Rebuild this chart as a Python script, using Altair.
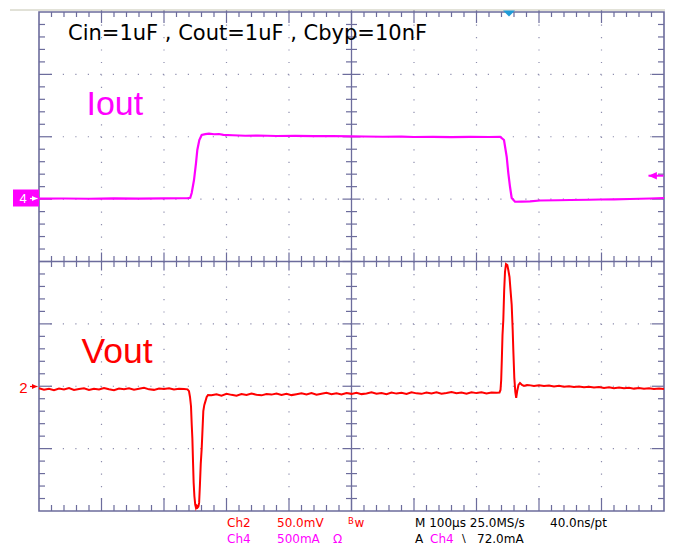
import altair as alt
import pandas as pd

# ---------------- data ----------------
# time in microseconds (100 us/div, screen spans -500..500 us)
# Ch4 = Iout in mA relative to its ground marker (500 mA/div, marker at +1 div)
iout_t = [-500, -460, -420, -380, -340, -300, -270, -262, -258, -255.7, -252, -248.8,
          -246.7, -243.5, -239.7, -234, -228, -220, -212, -205, -190, -170, -150, -120,
          -90, -60, -30, 0, 20, 50, 80, 100, 130, 160, 190, 220, 238, 244, 248.3, 250.9,
          253.6, 256.3, 261.6, 272, 285.6, 301.6, 330, 349.6, 380, 397.6, 420, 445.6,
          477.6, 500]
iout_ma = [4, 5, 3, 6, 4, 6, 7, 8, 11, 49, 153, 289,
           394, 474, 514, 521, 525, 520, 522, 515, 512, 508, 510, 506,
           507, 505, 506, 503, 502, 500, 501, 498, 499, 497, 499, 498, 499, 474, 340, 209,
           99, 9, -21, -20, -18, -11, -9, -7, -5, -3, -2, 1,
           5, 9]

# Ch2 = Vout in mV relative to its marker (50 mV/div, marker at -2 div)
vout_t = [-500, -492, -484, -476, -468, -460, -452, -444, -436, -428, -420, -412, -404,
          -396, -388, -380, -372, -364, -356, -348, -340, -332, -324, -316, -308, -300,
          -292, -284, -276, -268,
          -262.4, -260.0, -258.4, -256.8, -255.7, -254.6, -253.6, -252.6, -251.4, -250.0,
          -248.8, -247.5, -246.2, -245.0, -243.8, -242.6, -241.2, -239.7, -238.4, -237.1,
          -235.5, -234.0, -231.7, -229.6,
          -224, -216, -208, -200, -192, -184, -176, -168, -160, -152, -144, -136, -128,
          -120, -112, -104, -96, -88, -80, -72, -64, -56, -48, -40, -32, -24, -16, -8, 0,
          8, 16, 24, 32, 40, 48, 56, 64, 72, 80, 88, 96, 104, 112, 120, 128, 136, 144,
          152, 160, 168, 176, 184, 192, 200, 208, 216, 224, 232,
          236.8, 238.4, 239.5, 240.5, 241.6, 242.9, 244.3, 245.6, 247.2, 249.3, 250.9,
          252.8, 254.4, 256.3, 257.9, 258.9, 260.5, 262.1, 263.5, 265.1, 267.2, 269.6,
          272.8, 276.0, 280.8,
          284, 292, 300, 308, 316, 324, 332, 340, 348, 356, 364, 372, 380, 388, 396, 404,
          412, 420, 428, 436, 444, 452, 460, 468, 476, 484, 492, 500]
vout_mv = [-1.6, -2.8, -2.0, -3.1, -1.9, -2.5, -1.4, -2.9, -2.2, -1.7, -3.0, -2.1, -2.6,
           -1.5, -2.4, -3.2, -1.8, -2.3, -1.6, -2.7, -2.0, -1.3, -2.5, -2.9, -1.9, -2.2,
           -1.7, -2.6, -2.0, -2.3,
           -2.5, -4.0, -8.6, -16, -30, -42, -60, -77, -88, -95,
           -97.5, -96.0, -97.2, -96.4, -93.5, -80, -62, -50, -35, -20,
           -15, -12.5, -8.6, -7.0,
           -7.2, -6.4, -7.5, -6.1, -6.9, -7.6, -6.3, -7.0, -5.9, -6.8, -7.3, -6.2, -6.7,
           -5.8, -6.9, -6.0, -7.1, -6.4, -5.7, -6.6, -5.5, -6.8, -6.0, -5.3, -6.4, -5.7,
           -6.6, -5.4, -6.1,
           -5.2, -6.3, -5.8, -4.9, -6.0, -5.5, -6.4, -5.1, -5.9, -5.3, -6.2, -4.8, -5.7,
           -6.1, -5.0, -5.8, -4.9, -6.0,
           -5.4, -4.7, -5.6, -5.1, -6.0, -4.8, -5.5, -4.9, -5.8, -5.0, -5.3,
           -5.0, -3.0, 5.0, 21.1, 41.1, 53.1, 77.2, 91.6, 98.0, 97.2, 93.2,
           87.6, 77.2, 65.2, 45.1, 29.1, 6.7, -4.6, -9.4, -3.8, 1.0, 2.6,
           1.0, 0.2, 1.0,
           0.9, 0.3, 0.8, 0.2, 0.5, -0.1, 0.3, -0.4, 0.0, -0.6, -0.2, -0.8, -0.4, -1.0,
           -0.7, -1.3, -0.9, -1.5, -1.1, -1.6, -1.3, -1.9, -1.5, -2.0, -1.7, -2.2, -1.9,
           -2.2]

IOUT_REF_DIV, IOUT_PER_DIV = 1, 500.0
VOUT_REF_DIV, VOUT_PER_DIV = -2, 50.0

iout = pd.DataFrame({"t": iout_t, "v": [IOUT_REF_DIV + m / IOUT_PER_DIV for m in iout_ma]})
vout = pd.DataFrame({"t": vout_t, "v": [VOUT_REF_DIV + m / VOUT_PER_DIV for m in vout_mv]})

# ---------------- graticule ----------------
W, H = 625, 499
FRAME = "#6c6c9c"
DOTS = "#8e8eae"
MAGENTA = "#ff00ff"
RED = "#ff0000"

xs = alt.Scale(domain=[-500, 500], nice=False, zero=False)
ys = alt.Scale(domain=[-4, 4], nice=False, zero=False)

xt_minor = pd.DataFrame({"t": [i * 20 for i in range(-25, 26) if i % 5 != 0]})
xt_major = pd.DataFrame({"t": [i * 100 for i in range(-4, 5)]})
yt_minor = pd.DataFrame({"v": [round(i * 0.2, 1) for i in range(-20, 21) if i % 5 != 0]})
yt_major = pd.DataFrame({"v": [i for i in range(-3, 4)]})
x_grid = pd.DataFrame({"t": [i * 100 for i in range(-4, 5) if i != 0]})
y_grid = pd.DataFrame({"v": [i for i in range(-3, 4) if i != 0]})
one = pd.DataFrame({"k": [0]})

X = lambda: alt.X("t:Q", scale=xs, axis=None)
Y = lambda: alt.Y("v:Q", scale=ys, axis=None)

layers = []
# dotted grid
layers.append(alt.Chart(y_grid).mark_rule(color=DOTS, strokeWidth=1.2, strokeDash=[1.2, 11.3])
              .encode(y=Y()))
layers.append(alt.Chart(x_grid).mark_rule(color=DOTS, strokeWidth=1.2, strokeDash=[1.2, 11.275])
              .encode(x=X()))
# center cross lines
layers.append(alt.Chart(pd.DataFrame({"v": [0]})).mark_rule(color=FRAME, strokeWidth=1.3).encode(y=Y()))
layers.append(alt.Chart(pd.DataFrame({"t": [0]})).mark_rule(color=FRAME, strokeWidth=1.3).encode(x=X()))


def xticks(df, y0, y1, w=1.2):
    return alt.Chart(df).mark_rule(color=FRAME, strokeWidth=w).encode(
        x=X(), y=alt.value(y0), y2=alt.value(y1))


def yticks(df, x0, x1, w=1.2):
    return alt.Chart(df).mark_rule(color=FRAME, strokeWidth=w).encode(
        y=Y(), x=alt.value(x0), x2=alt.value(x1))


layers += [
    xticks(xt_minor, 0, 5), xticks(xt_major, -2, 11),
    xticks(xt_minor, H - 6, H), xticks(xt_major, H - 13, H),
    xticks(xt_minor, H / 2 - 5.5, H / 2 + 5.5), xticks(xt_major, H / 2 - 9, H / 2 + 9),
    yticks(yt_minor, 0, 6), yticks(yt_major, 0, 13),
    yticks(yt_minor, W - 6, W), yticks(yt_major, W - 12, W),
    yticks(yt_minor, W / 2 - 5.5, W / 2 + 5.5), yticks(yt_major, W / 2 - 9, W / 2 + 9),
]

# top border line of the screenshot
layers.append(alt.Chart(one).mark_rule(color="#c4c4b0", strokeWidth=1).encode(
    x=alt.value(-29), x2=alt.value(626), y=alt.value(-2)))

# traces
layers.append(alt.Chart(iout).mark_line(color=MAGENTA, strokeWidth=2.2).encode(x=X(), y=Y()))
layers.append(alt.Chart(vout).mark_line(color=RED, strokeWidth=2.0).encode(x=X(), y=Y()))


def txt(s, x, y, color="black", size=12, font="DejaVu Sans", align="left",
        baseline="alphabetic", weight="normal"):
    return alt.Chart(one).mark_text(text=s, color=color, fontSize=size, font=font,
                                    align=align, baseline=baseline, fontWeight=weight).encode(
        x=alt.value(x), y=alt.value(y))


def arrow(x0, x1, y, color, head, width=1.3, hs=30):
    """horizontal arrow drawn from a rule and a triangle head (head = 'left'/'right')"""
    shaft = alt.Chart(one).mark_rule(color=color, strokeWidth=width).encode(
        x=alt.value(x0), x2=alt.value(x1), y=alt.value(y))
    shape = "M1,0L-1,-0.9L-1,0.9Z" if head == "right" else "M-1,0L1,-0.9L1,0.9Z"
    r = (hs ** 0.5) / 2
    hx = x1 - r if head == "right" else x0 + r
    tip = alt.Chart(one).mark_point(shape=shape, size=hs, filled=True, color=color,
                                    opacity=1).encode(x=alt.value(hx), y=alt.value(y))
    return [shaft, tip]


# trigger marker
layers.append(alt.Chart(one).mark_point(shape="M-1,-0.5L1,-0.5L0,0.5Z", size=144, filled=True,
                                        color="#1f9bd7", opacity=1).encode(
    x=alt.value(470), y=alt.value(1.5)))

# channel markers
layers.append(alt.Chart(one).mark_rect(color=MAGENTA).encode(
    x=alt.value(-26), x2=alt.value(0), y=alt.value(177.5), y2=alt.value(194.5)))
layers.append(txt("4", -16, 187, "white", 13, "Liberation Sans", "center", "middle"))
layers += arrow(-9, -1.5, 186.5, "white", "right", 1.2, 30)
layers.append(txt("2", -15.5, 375.5, RED, 15, "Liberation Sans", "center", "middle"))
layers += arrow(-9, -1.5, 374.5, RED, "right", 1.2, 30)
layers += arrow(609.5, 624.5, 163.7, MAGENTA, "left", 2.0, 70)

# annotations
layers.append(txt("Cin=1uF , Cout=1uF , Cbyp=10nF", 29, 27.5, "black", 21, "DejaVu Sans"))
layers.append(txt("Iout", 47.5, 103, MAGENTA, 34, "Liberation Sans"))
layers.append(txt("Vout", 42.5, 350.7, RED, 35.5, "Liberation Sans"))

# status line
R1, R2 = 515.3, 531.3
layers += [
    txt("Ch2", 188, R1, RED), txt("50.0mV", 238, R1, RED),
    txt("B", 309, R1 - 3, RED, 8.5), txt("w", 315.5, R1, RED, 12),
    txt("M 100µs 25.0MS/s", 376, R1), txt("40.0ns/pt", 511, R1),
    txt("Ch4", 188, R2, MAGENTA), txt("500mA", 238, R2, MAGENTA), txt("Ω", 294, R2, MAGENTA),
    txt("A", 376, R2), txt("Ch4", 391, R2, MAGENTA), txt("\\", 423, R2 - 1, "black", 11),
    txt("72.0mA", 438, R2),
]

chart = alt.layer(*layers).properties(
    width=W, height=H, autosize=alt.AutoSizeParams(type="none"),
    padding={"left": 31, "top": 4, "right": 7, "bottom": 34},
    background="white",
).configure_view(stroke=FRAME, strokeWidth=1.6)

chart.save("out.html", embed_options={"renderer": "svg", "actions": False})
